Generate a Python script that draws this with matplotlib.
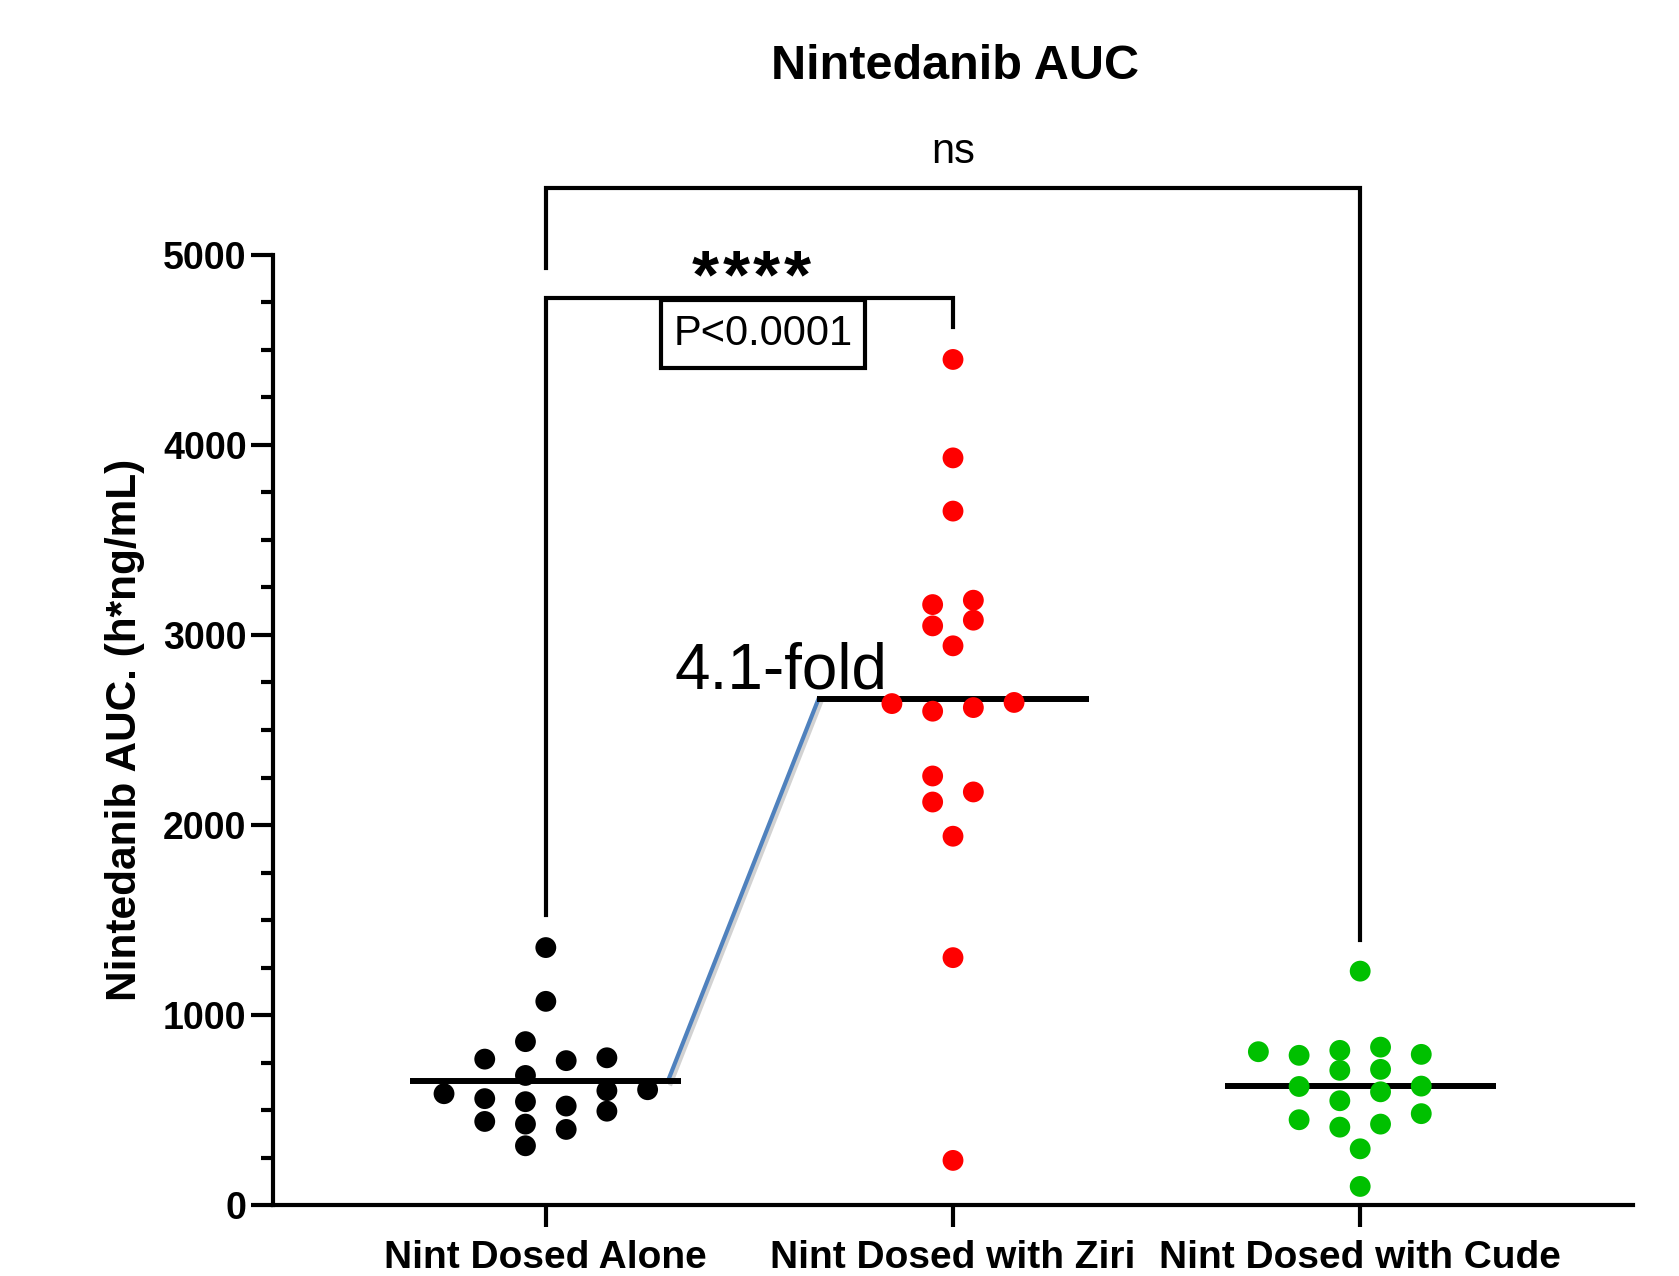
import numpy as np
import matplotlib
matplotlib.use("Agg")
from matplotlib import pyplot as plt
from matplotlib.ticker import MultipleLocator
from matplotlib.patches import Rectangle
import matplotlib.patheffects as pe

plt.rcParams['font.family'] = ['Liberation Sans', 'DejaVu Sans']

# values (h*ng/mL)
groups = ['Nint Dosed Alone', 'Nint Dosed with Ziri', 'Nint Dosed with Cude']
alone = [1355, 1072, 860, 768, 775, 760, 682, 544, 586, 602, 607, 494, 521,
         560, 426, 440, 398, 312]
ziri = [4450, 3932, 3652, 3183, 3078, 3160, 3048, 2943, 2645, 2618, 2599,
        2639, 2258, 2174, 2121, 1941, 1302, 235]
cude = [1231, 788, 709, 814, 807, 831, 793, 714, 624, 626, 596, 549, 481,
        426, 410, 449, 296, 98]
colors = ['black', '#FF0000', '#00C000']


def swarm(vals, h=105, step=0.05):
    # column layout: isolated points in the middle, the rest in side columns
    vals = np.asarray(vals, float)
    slot = np.zeros(len(vals), dtype=int)
    placed = []
    slots = [-1, 1, -3, 3, -5, 5, -7, 7, -9, 9]
    for i in np.argsort(vals):
        v = vals[i]
        near = [j for j in range(len(vals)) if j != i and abs(vals[j] - v) < h]
        if near:
            for s in slots:
                ok = True
                for j in placed:
                    if abs(slot[j] - s) < 2 and abs(vals[j] - v) < h:
                        ok = False
                        break
                if ok:
                    slot[i] = s
                    break
        placed.append(i)
    return slot * step


fig = plt.figure(figsize=(16.79, 12.76), dpi=100)
ax = fig.add_axes([0.1626, 0.0556, 0.81, 0.7446])

means = []
for k, vals in enumerate([alone, ziri, cude]):
    m = np.mean(vals)
    means.append(m)
    ax.plot([k - 0.333, k + 0.333], [m, m], color='black', lw=4.3, zorder=3,
            solid_capstyle='butt')
    ax.scatter(k + swarm(vals), vals, s=15 ** 2, color=colors[k],
               edgecolors='none', zorder=4, clip_on=False)

# fold-change connector
ax.plot([0.30, 0.67], [means[0], means[1]], color='#4F81BD', lw=3, zorder=2,
        path_effects=[pe.SimpleLineShadow(offset=(2, -2), shadow_color='gray', alpha=0.35),
                      pe.Normal()])
ax.text(0.316, 2720, '%.1f-fold' % (means[1] / means[0]), fontsize=46,
        ha='left', va='baseline', zorder=5)

# significance brackets
ax.plot([0, 0, 1, 1], [1524, 4775, 4775, 4622], color='black', lw=3,
        clip_on=False, solid_joinstyle='miter')
ax.plot([0, 0, 2, 2], [4931, 5352, 5352, 1393], color='black', lw=3,
        clip_on=False, solid_joinstyle='miter')
for k in range(4):
    ax.text(0.392 + k * 0.075, 4872, '*', fontsize=50, fontweight='bold',
            ha='center', va='center')
ax.text(1.0, 5484, 'ns', fontsize=30, ha='center', va='baseline')
ax.add_patch(Rectangle((0.282, 4405), 0.502, 358, facecolor='white',
                       edgecolor='black', lw=3, zorder=5, clip_on=False))
ax.text(0.533, 4584, 'P<0.0001', fontsize=30, ha='center', va='center', zorder=6)

ax.set_xlim(-0.67, 2.67)
ax.set_ylim(0, 5000)
ax.set_xticks([0, 1, 2])
ax.set_xticklabels(groups, fontsize=28, fontweight='bold')
ax.set_yticks(range(0, 5001, 1000))
ax.yaxis.set_minor_locator(MultipleLocator(250))
for lab in ax.get_yticklabels():
    lab.set_fontweight('bold')
    lab.set_fontsize(27)
ax.tick_params(axis='both', which='major', length=16, width=3, pad=3)
ax.tick_params(axis='x', pad=9)
ax.tick_params(axis='y', which='minor', length=8.6, width=3)
ax.spines['top'].set_visible(False)
ax.spines['right'].set_visible(False)
ax.spines['left'].set_linewidth(3)
ax.spines['bottom'].set_linewidth(3)

ax.set_ylabel('Nintedanib AUC. (h*ng/mL)', fontsize=30.5, fontweight='bold')
ax.yaxis.set_label_coords(-0.094, 0.5)

fig.text(0.569, 0.938, 'Nintedanib AUC', fontsize=35, fontweight='bold',
         ha='center', va='baseline')

fig.savefig('out.png', dpi=100)
